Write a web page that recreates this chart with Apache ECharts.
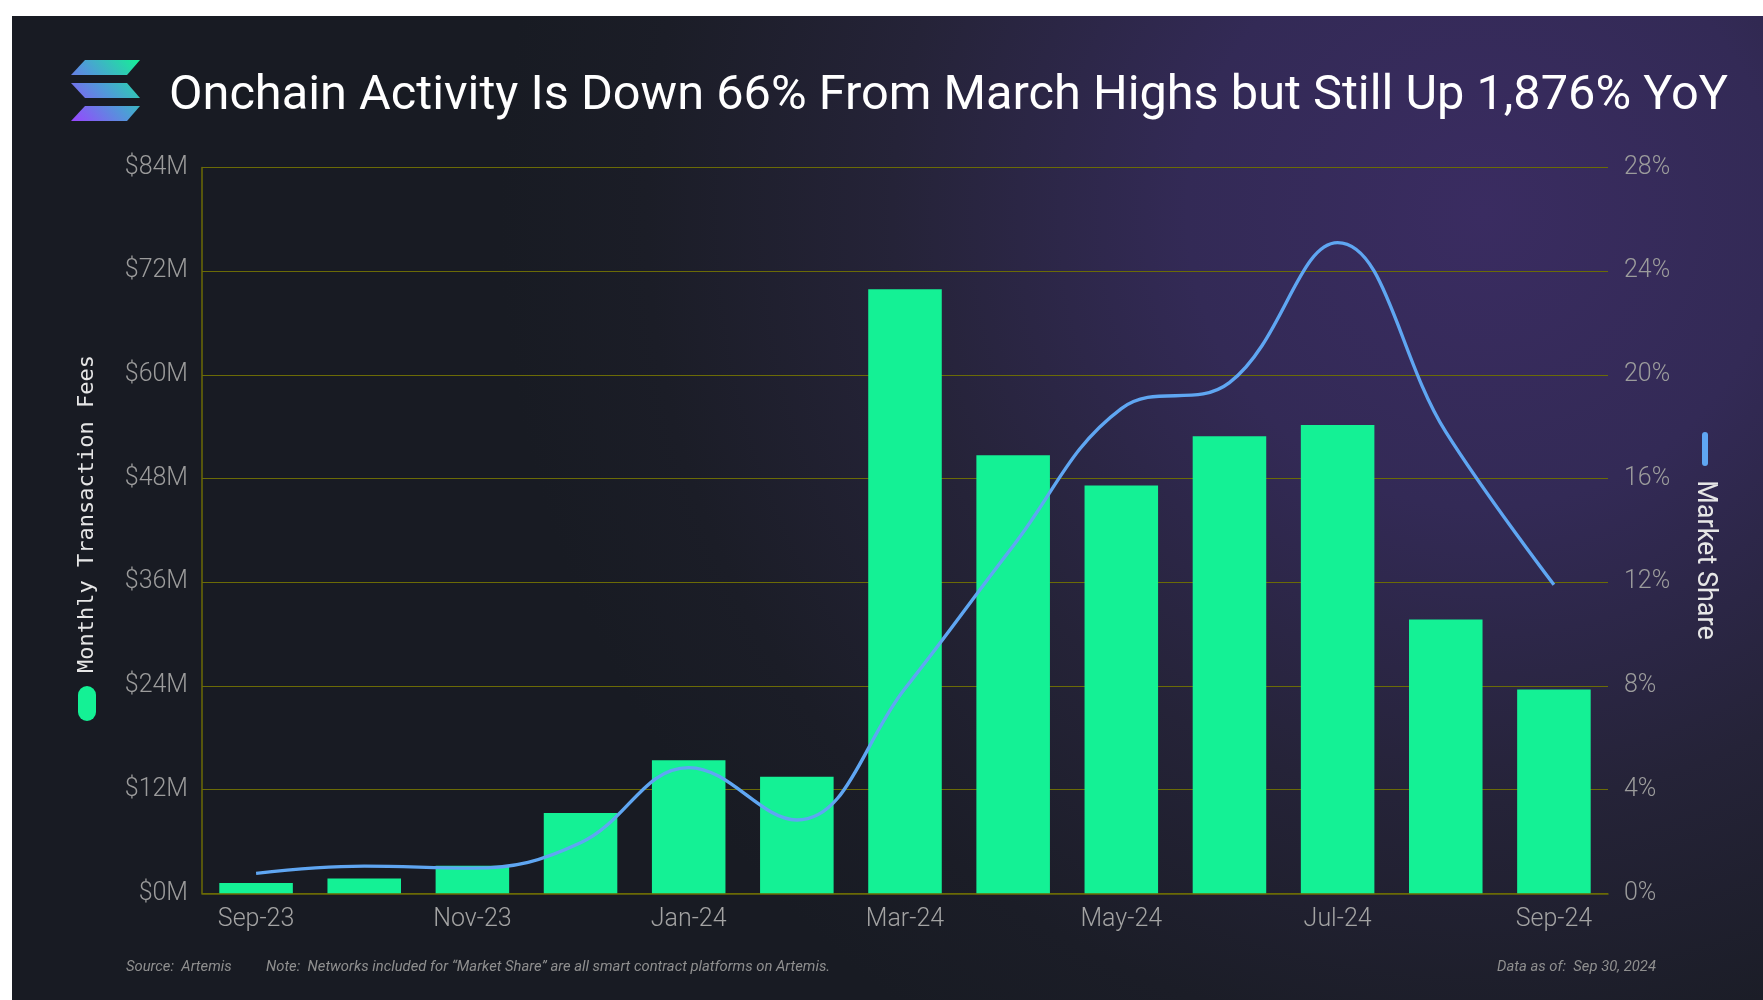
<!DOCTYPE html>
<html lang="en">
<head>
<meta charset="UTF-8">
<script src="https://cdn.jsdelivr.net/npm/echarts@6/dist/echarts.min.js"></script>
<style>
    html, body { margin: 0; padding: 0; background: #ffffff; }
    #chart { width: 1763px; height: 1000px; }
</style>
</head>
<body>
<div id="chart"></div>
<script>
    // data
    var months = ['Sep-23', 'Oct-23', 'Nov-23', 'Dec-23', 'Jan-24', 'Feb-24', 'Mar-24',
        'Apr-24', 'May-24', 'Jun-24', 'Jul-24', 'Aug-24', 'Sep-24'];
    // monthly transaction fees, $M
    var feesM = [1.2, 1.7, 3.2, 9.3, 15.4, 13.5, 69.9, 50.7, 47.2, 52.9, 54.2, 31.7, 23.6];
    // market share, %
    var sharePct = [0.77, 1.05, 0.97, 1.95, 4.85, 2.83, 7.9, 13.4, 18.7, 19.7, 25.1, 17.8, 11.9];

    var feeTicks = [0, 12, 24, 36, 48, 60, 72, 84];
    var shareTicks = [0, 4, 8, 12, 16, 20, 24, 28];

    var titleText = 'Onchain Activity Is Down 66% From March Highs but Still Up 1,876% YoY';
    var sourceText = 'Source:  Artemis';
    var noteText = 'Note:  Networks included for \u201cMarket Share\u201d are all smart contract platforms on Artemis.';
    var dateText = 'Data as of:  Sep 30, 2024';

    var green = '#14F195';
    var blue = '#5fa6f2';
    var gridColor = '#6b6b06';
    var labelFont = 'Roboto';
    var footFont = 'italic 14.8px Roboto';

    var myChart = echarts.init(document.getElementById('chart'));

    var logoFill = {
        type: 'linear', global: true,
        x: 71, y: 121, x2: 140, y2: 60,
        colorStops: [
            {offset: 0, color: '#9945FF'},
            {offset: 0.5, color: '#4f9bd8'},
            {offset: 1, color: '#14F195'}
        ]
    };

    var option = {
        backgroundColor: '#ffffff',
        animation: false,
        title: {
            text: titleText,
            left: 164,
            top: 63,
            textStyle: {
                color: '#ffffff',
                fontFamily: 'Roboto',
                fontWeight: 400,
                fontSize: 48.7,
                lineHeight: 58
            }
        },
        grid: {
            left: 202,
            right: 155,
            top: 167.5,
            bottom: 106.7
        },
        xAxis: {
            type: 'category',
            data: months,
            axisLine: {show: true, lineStyle: {color: gridColor, width: 1.5}},
            axisTick: {show: false},
            axisLabel: {
                interval: 1,
                color: '#a3a3a3',
                fontFamily: labelFont,
                fontWeight: 300,
                fontSize: 25,
                margin: 14
            }
        },
        yAxis: [{
            type: 'value',
            min: feeTicks[0],
            max: feeTicks[feeTicks.length - 1],
            interval: 12,
            axisLine: {show: true, lineStyle: {color: gridColor, width: 1.5}},
            axisTick: {show: false},
            splitLine: {lineStyle: {color: gridColor, width: 1.2}},
            axisLabel: {
                color: '#9c9c9c',
                fontFamily: labelFont,
                fontWeight: 300,
                fontSize: 25,
                margin: 14,
                formatter: function (v) { return '$' + v + 'M'; }
            }
        }, {
            type: 'value',
            min: shareTicks[0],
            max: shareTicks[shareTicks.length - 1],
            interval: 4,
            axisLine: {show: false},
            axisTick: {show: false},
            splitLine: {show: false},
            axisLabel: {
                color: '#9c9c9c',
                fontFamily: labelFont,
                fontWeight: 300,
                fontSize: 25,
                margin: 16,
                formatter: function (v) { return v + '%'; }
            }
        }],
        series: [{
            name: 'Monthly Transaction Fees',
            type: 'bar',
            data: feesM,
            yAxisIndex: 0,
            barCategoryGap: '32%',
            itemStyle: {color: green}
        }, {
            name: 'Market Share',
            type: 'line',
            data: sharePct,
            yAxisIndex: 1,
            smooth: 0.4,
            showSymbol: false,
            lineStyle: {color: blue, width: 3.4},
            z: 5
        }],
        graphic: [
            // dark panel with purple glow
            {
                type: 'rect', z: -10, silent: true,
                shape: {x: 12, y: 16, width: 1751, height: 984},
                style: {
                    fill: {
                        type: 'radial', x: 0.84, y: 0.2, r: 1.0,
                        colorStops: [
                            {offset: 0, color: '#3a2c61'},
                            {offset: 0.3, color: '#332a56'},
                            {offset: 0.6, color: '#252338'},
                            {offset: 0.85, color: '#1b1d27'},
                            {offset: 1, color: '#181b23'}
                        ]
                    }
                }
            },
            // logo
            {type: 'polygon', z: 10, shape: {points: [[85, 60], [140, 60], [127, 75], [71, 75]]}, style: {fill: logoFill}},
            {type: 'polygon', z: 10, shape: {points: [[71, 83], [127, 83], [140, 98], [85, 98]]}, style: {fill: logoFill}},
            {type: 'polygon', z: 10, shape: {points: [[85, 106], [140, 106], [127, 121], [71, 121]]}, style: {fill: logoFill}},
            // left legend
            {
                type: 'text', z: 10, x: 87, y: 514, rotation: Math.PI / 2,
                style: {
                    text: 'Monthly Transaction Fees', fill: '#e6e6e6',
                    font: '22px "DejaVu Sans Mono"', align: 'center', verticalAlign: 'middle'
                }
            },
            {type: 'rect', z: 10, shape: {x: 78, y: 686, width: 18, height: 35, r: 9}, style: {fill: green}},
            // right legend
            {type: 'rect', z: 10, shape: {x: 1702, y: 432, width: 6, height: 34, r: 3}, style: {fill: blue}},
            {
                type: 'text', z: 10, x: 1705, y: 560, rotation: -Math.PI / 2,
                style: {
                    text: 'Market Share', fill: '#e6e6e6',
                    font: '27px Roboto', align: 'center', verticalAlign: 'middle'
                }
            },
            // footer
            {
                type: 'text', z: 10, x: 126, y: 967,
                style: {text: sourceText, fill: '#8f8f8f', font: footFont, verticalAlign: 'middle'}
            },
            {
                type: 'text', z: 10, x: 266, y: 967,
                style: {text: noteText, fill: '#8f8f8f', font: footFont, verticalAlign: 'middle'}
            },
            {
                type: 'text', z: 10, x: 1656, y: 967,
                style: {text: dateText, fill: '#8f8f8f', font: footFont, align: 'right', verticalAlign: 'middle'}
            }
        ]
    };
    myChart.setOption(option);
</script>
</body>
</html>
